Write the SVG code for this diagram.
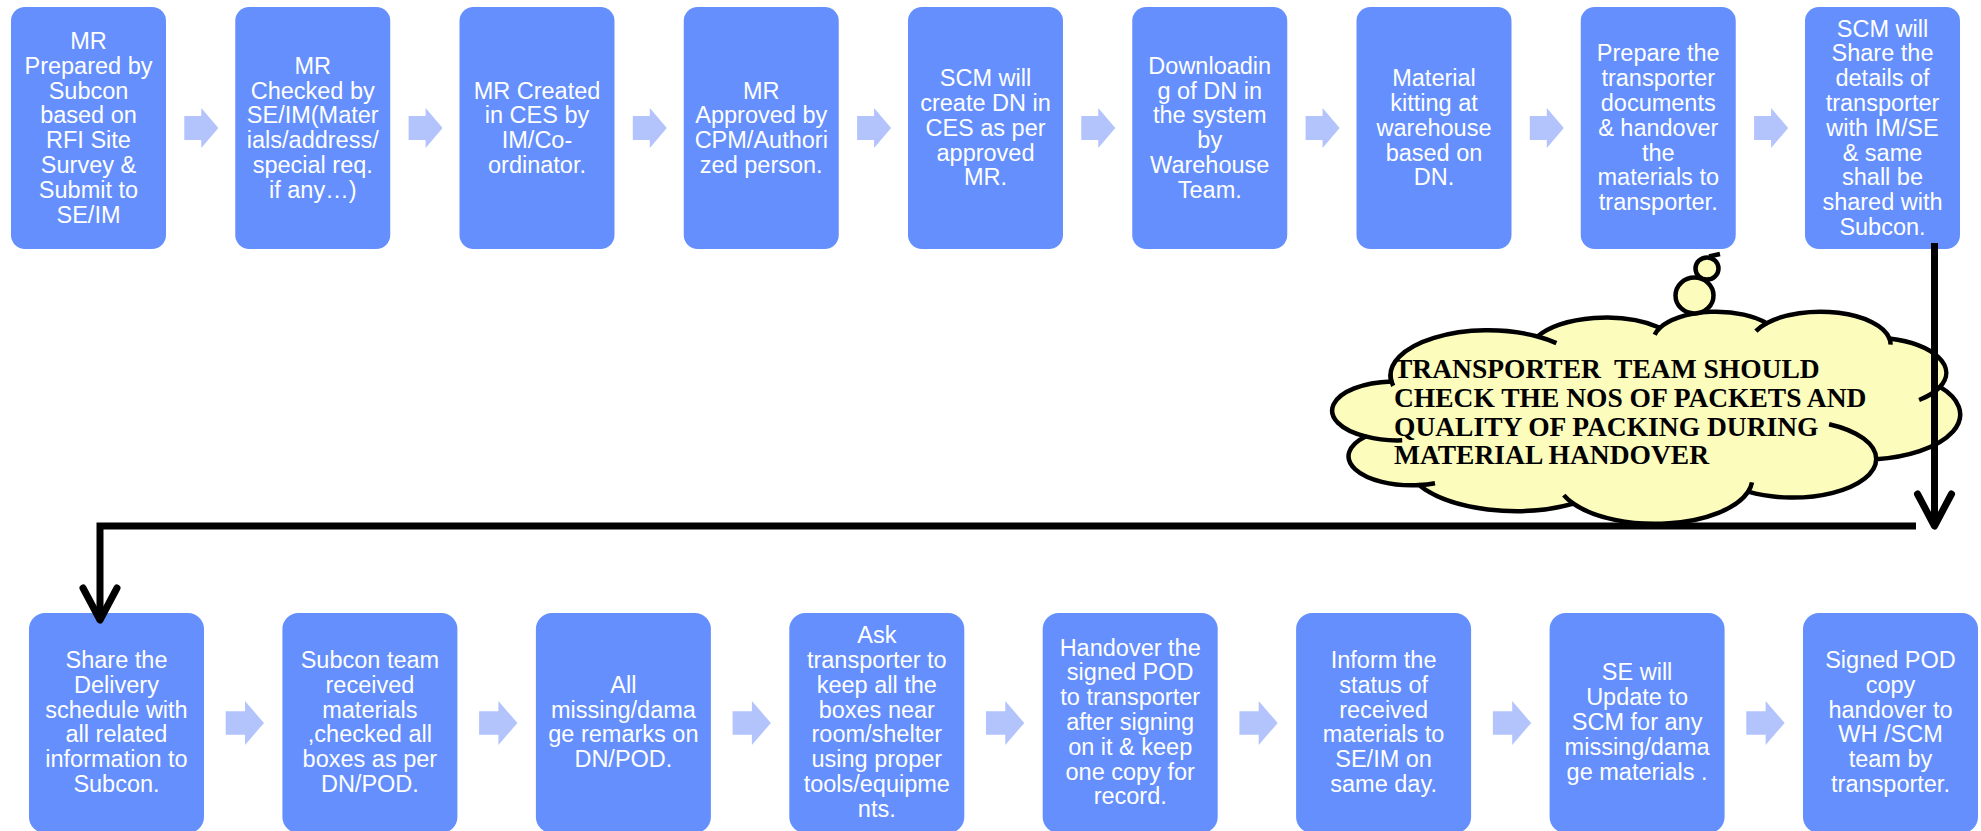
<svg xmlns="http://www.w3.org/2000/svg" xmlns:xlink="http://www.w3.org/1999/xlink" width="1981" height="831" viewBox="0 0 1981 831">
  <style>
    .box { fill: #648FFD; }
    .lbl { font-family: "Liberation Sans", Arial, sans-serif; font-size: 23.5px; fill: #FFFFFF; text-anchor: middle; }
    .chev { fill: #B3C3FC; }
    .cloud { fill: #FCFCBD; stroke: #000000; stroke-width: 4.5; stroke-linejoin: round; }
    .tick { fill: none; stroke: #000000; stroke-width: 4.5; stroke-linecap: butt; }
    .note { font-family: "Liberation Serif", "Times New Roman", serif; font-weight: bold; font-size: 27.5px; fill: #000000; white-space: pre; }
    .flow { fill: none; stroke: #000000; stroke-width: 7; stroke-linejoin: miter; }
  </style>
  <defs>
    <path id="chevTop" d="M0,-12 H17 V-20 L34,0 L17,20 V12 H0 Z"/>
    <path id="chevBottom" d="M0,-11.7 H19.3 V-22 L38.3,0 L19.3,22 V11.7 H0 Z"/>
    <marker id="openArrow" markerUnits="userSpaceOnUse" markerWidth="44" markerHeight="44" viewBox="-40 -22 44 44" refX="0" refY="0" orient="auto" overflow="visible">
      <path d="M-32,-17 L0,0 L-32,17" fill="none" stroke="#000000" stroke-width="7" stroke-linecap="round" stroke-linejoin="round"/>
    </marker>
  </defs>

  <rect width="1981" height="831" fill="#FFFFFF"/>

  <!-- top row of steps -->
  <g id="step-01"><rect class="box" x="11" y="7" width="155" height="242" rx="14"/>
    <text class="lbl" x="88.5" y="49"><tspan x="88.5">MR</tspan><tspan x="88.5" dy="24.8">Prepared by</tspan><tspan x="88.5" dy="24.8">Subcon</tspan><tspan x="88.5" dy="24.8">based on</tspan><tspan x="88.5" dy="24.8">RFI Site</tspan><tspan x="88.5" dy="24.8">Survey &amp;</tspan><tspan x="88.5" dy="24.8">Submit to</tspan><tspan x="88.5" dy="24.8">SE/IM</tspan></text></g>
  <g id="step-02"><rect class="box" x="235.25" y="7" width="155" height="242" rx="14"/>
    <text class="lbl" x="312.75" y="73.8"><tspan x="312.75">MR</tspan><tspan x="312.75" dy="24.8">Checked by</tspan><tspan x="312.75" dy="24.8">SE/IM(Mater</tspan><tspan x="312.75" dy="24.8">ials/address/</tspan><tspan x="312.75" dy="24.8">special req.</tspan><tspan x="312.75" dy="24.8">if any…)</tspan></text></g>
  <g id="step-03"><rect class="box" x="459.5" y="7" width="155" height="242" rx="14"/>
    <text class="lbl" x="537" y="98.6"><tspan x="537">MR Created</tspan><tspan x="537" dy="24.8">in CES by</tspan><tspan x="537" dy="24.8">IM/Co-</tspan><tspan x="537" dy="24.8">ordinator.</tspan></text></g>
  <g id="step-04"><rect class="box" x="683.75" y="7" width="155" height="242" rx="14"/>
    <text class="lbl" x="761.25" y="98.6"><tspan x="761.25">MR</tspan><tspan x="761.25" dy="24.8">Approved by</tspan><tspan x="761.25" dy="24.8">CPM/Authori</tspan><tspan x="761.25" dy="24.8">zed person.</tspan></text></g>
  <g id="step-05"><rect class="box" x="908" y="7" width="155" height="242" rx="14"/>
    <text class="lbl" x="985.5" y="86.2"><tspan x="985.5">SCM will</tspan><tspan x="985.5" dy="24.8">create DN in</tspan><tspan x="985.5" dy="24.8">CES as per</tspan><tspan x="985.5" dy="24.8">approved</tspan><tspan x="985.5" dy="24.8">MR.</tspan></text></g>
  <g id="step-06"><rect class="box" x="1132.25" y="7" width="155" height="242" rx="14"/>
    <text class="lbl" x="1209.75" y="73.8"><tspan x="1209.75">Downloadin</tspan><tspan x="1209.75" dy="24.8">g of DN in</tspan><tspan x="1209.75" dy="24.8">the system</tspan><tspan x="1209.75" dy="24.8">by</tspan><tspan x="1209.75" dy="24.8">Warehouse</tspan><tspan x="1209.75" dy="24.8">Team.</tspan></text></g>
  <g id="step-07"><rect class="box" x="1356.5" y="7" width="155" height="242" rx="14"/>
    <text class="lbl" x="1434" y="86.2"><tspan x="1434">Material</tspan><tspan x="1434" dy="24.8">kitting at</tspan><tspan x="1434" dy="24.8">warehouse</tspan><tspan x="1434" dy="24.8">based on</tspan><tspan x="1434" dy="24.8">DN.</tspan></text></g>
  <g id="step-08"><rect class="box" x="1580.75" y="7" width="155" height="242" rx="14"/>
    <text class="lbl" x="1658.25" y="61.4"><tspan x="1658.25">Prepare the</tspan><tspan x="1658.25" dy="24.8">transporter</tspan><tspan x="1658.25" dy="24.8">documents</tspan><tspan x="1658.25" dy="24.8">&amp; handover</tspan><tspan x="1658.25" dy="24.8">the</tspan><tspan x="1658.25" dy="24.8">materials to</tspan><tspan x="1658.25" dy="24.8">transporter.</tspan></text></g>
  <g id="step-09"><rect class="box" x="1805" y="7" width="155" height="242" rx="14"/>
    <text class="lbl" x="1882.5" y="36.6"><tspan x="1882.5">SCM will</tspan><tspan x="1882.5" dy="24.8">Share the</tspan><tspan x="1882.5" dy="24.8">details of</tspan><tspan x="1882.5" dy="24.8">transporter</tspan><tspan x="1882.5" dy="24.8">with IM/SE</tspan><tspan x="1882.5" dy="24.8">&amp; same</tspan><tspan x="1882.5" dy="24.8">shall be</tspan><tspan x="1882.5" dy="24.8">shared with</tspan><tspan x="1882.5" dy="24.8">Subcon.</tspan></text></g>

  <!-- bottom row of steps -->
  <g id="step-10"><rect class="box" x="29" y="613" width="175" height="220" rx="16"/>
    <text class="lbl" x="116.5" y="668"><tspan x="116.5">Share the</tspan><tspan x="116.5" dy="24.8">Delivery</tspan><tspan x="116.5" dy="24.8">schedule with</tspan><tspan x="116.5" dy="24.8">all related</tspan><tspan x="116.5" dy="24.8">information to</tspan><tspan x="116.5" dy="24.8">Subcon.</tspan></text></g>
  <g id="step-11"><rect class="box" x="282.4" y="613" width="175" height="220" rx="16"/>
    <text class="lbl" x="369.9" y="668"><tspan x="369.9">Subcon team</tspan><tspan x="369.9" dy="24.8">received</tspan><tspan x="369.9" dy="24.8">materials</tspan><tspan x="369.9" dy="24.8">,checked all</tspan><tspan x="369.9" dy="24.8">boxes as per</tspan><tspan x="369.9" dy="24.8">DN/POD.</tspan></text></g>
  <g id="step-12"><rect class="box" x="535.9" y="613" width="175" height="220" rx="16"/>
    <text class="lbl" x="623.4" y="692.8"><tspan x="623.4">All</tspan><tspan x="623.4" dy="24.8">missing/dama</tspan><tspan x="623.4" dy="24.8">ge remarks on</tspan><tspan x="623.4" dy="24.8">DN/POD.</tspan></text></g>
  <g id="step-13"><rect class="box" x="789.3" y="613" width="175" height="220" rx="16"/>
    <text class="lbl" x="876.8" y="643.2"><tspan x="876.8">Ask</tspan><tspan x="876.8" dy="24.8">transporter to</tspan><tspan x="876.8" dy="24.8">keep all the</tspan><tspan x="876.8" dy="24.8">boxes near</tspan><tspan x="876.8" dy="24.8">room/shelter</tspan><tspan x="876.8" dy="24.8">using proper</tspan><tspan x="876.8" dy="24.8">tools/equipme</tspan><tspan x="876.8" dy="24.8">nts.</tspan></text></g>
  <g id="step-14"><rect class="box" x="1042.7" y="613" width="175" height="220" rx="16"/>
    <text class="lbl" x="1130.2" y="655.6"><tspan x="1130.2">Handover the</tspan><tspan x="1130.2" dy="24.8">signed POD</tspan><tspan x="1130.2" dy="24.8">to transporter</tspan><tspan x="1130.2" dy="24.8">after signing</tspan><tspan x="1130.2" dy="24.8">on it &amp; keep</tspan><tspan x="1130.2" dy="24.8">one copy for</tspan><tspan x="1130.2" dy="24.8">record.</tspan></text></g>
  <g id="step-15"><rect class="box" x="1296.1" y="613" width="175" height="220" rx="16"/>
    <text class="lbl" x="1383.6" y="668"><tspan x="1383.6">Inform the</tspan><tspan x="1383.6" dy="24.8">status of</tspan><tspan x="1383.6" dy="24.8">received</tspan><tspan x="1383.6" dy="24.8">materials to</tspan><tspan x="1383.6" dy="24.8">SE/IM on</tspan><tspan x="1383.6" dy="24.8">same day.</tspan></text></g>
  <g id="step-16"><rect class="box" x="1549.6" y="613" width="175" height="220" rx="16"/>
    <text class="lbl" x="1637.1" y="680.4"><tspan x="1637.1">SE will</tspan><tspan x="1637.1" dy="24.8">Update to</tspan><tspan x="1637.1" dy="24.8">SCM for any</tspan><tspan x="1637.1" dy="24.8">missing/dama</tspan><tspan x="1637.1" dy="24.8">ge materials .</tspan></text></g>
  <g id="step-17"><rect class="box" x="1803" y="613" width="175" height="220" rx="16"/>
    <text class="lbl" x="1890.5" y="668"><tspan x="1890.5">Signed POD</tspan><tspan x="1890.5" dy="24.8">copy</tspan><tspan x="1890.5" dy="24.8">handover to</tspan><tspan x="1890.5" dy="24.8">WH /SCM</tspan><tspan x="1890.5" dy="24.8">team by</tspan><tspan x="1890.5" dy="24.8">transporter.</tspan></text></g>

  <!-- cloud callout note -->
  <g id="note-cloud">
    <path class="cloud" d="M1391.4,381.5
      A97.70,45.10 0 0 1 1537.6,336.5
      A77.16,35.66 0 0 1 1659.9,327.8
      A63.15,29.17 0 0 1 1766.6,323.2
      A70.27,32.36 0 0 1 1889.4,338.4
      A77.16,35.69 0 0 1 1940.0,386.9
      A98.02,45.25 0 0 1 1876.2,459.2
      A83.69,38.61 0 0 1 1748.1,491.7
      A97.68,45.22 0 0 1 1573.4,503.7
      A111.69,51.74 0 0 1 1419.0,485.1
      A63.08,29.04 0 0 1 1365.6,436.4
      A62.86,29.17 0 0 1 1391.4,381.5 Z"/>
    <path class="tick" d="M1402.2,440.3 A62.86,29.17 0 0 1 1365.6,436.4
      M1435.0,483.2 A63.08,29.04 0 0 1 1419.0,485.1
      M1573.4,503.7 A97.68,45.22 0 0 1 1563.8,495.1
      M1752.0,482.3 A97.68,45.22 0 0 1 1748.1,491.7
      M1829.1,424.2 A83.69,38.61 0 0 1 1876.2,459.2
      M1940.0,386.9 A77.16,35.69 0 0 1 1919.1,400.0
      M1889.4,338.4 A70.27,32.36 0 0 1 1890.5,344.6
      M1755.9,331.1 A70.27,32.36 0 0 1 1766.6,323.2
      M1654.7,334.7 A63.15,29.17 0 0 1 1659.9,327.8
      M1537.6,336.5 A97.70,45.10 0 0 1 1556.4,343.1
      M1393.2,385.9 A97.70,45.10 0 0 1 1390.6,374.6"/>
    <ellipse class="cloud" cx="1694.5" cy="295.5" rx="19" ry="18"/>
    <ellipse class="cloud" cx="1707" cy="268.5" rx="11.5" ry="11"/>
    <path class="tick" d="M1709,256.5 L1720,254"/>
    <text class="note" x="1394" y="378" xml:space="preserve">TRANSPORTER  TEAM SHOULD</text>
    <text class="note" x="1394" y="407">CHECK THE NOS OF PACKETS AND</text>
    <text class="note" x="1394" y="435.5">QUALITY OF PACKING DURING</text>
    <text class="note" x="1394" y="464">MATERIAL HANDOVER</text>
  </g>

  <!-- connectors: block arrows between steps and the return line -->
  <g id="connectors">
    <g id="chevrons-top" class="chev">
      <use xlink:href="#chevTop" transform="translate(184.3,128)"/>
      <use xlink:href="#chevTop" transform="translate(408.6,128)"/>
      <use xlink:href="#chevTop" transform="translate(632.8,128)"/>
      <use xlink:href="#chevTop" transform="translate(857.1,128)"/>
      <use xlink:href="#chevTop" transform="translate(1081.3,128)"/>
      <use xlink:href="#chevTop" transform="translate(1305.6,128)"/>
      <use xlink:href="#chevTop" transform="translate(1529.8,128)"/>
      <use xlink:href="#chevTop" transform="translate(1754.1,128)"/>
    </g>
    <g id="chevrons-bottom" class="chev">
      <use xlink:href="#chevBottom" transform="translate(225.7,723)"/>
      <use xlink:href="#chevBottom" transform="translate(479.1,723)"/>
      <use xlink:href="#chevBottom" transform="translate(732.6,723)"/>
      <use xlink:href="#chevBottom" transform="translate(986.0,723)"/>
      <use xlink:href="#chevBottom" transform="translate(1239.4,723)"/>
      <use xlink:href="#chevBottom" transform="translate(1492.9,723)"/>
      <use xlink:href="#chevBottom" transform="translate(1746.3,723)"/>
    </g>
    <path id="drop-right" class="flow" d="M1934.5,243 L1934.5,526" marker-end="url(#openArrow)"/>
    <path id="return-left" class="flow" d="M1916,526 L100,526 L100,620" marker-end="url(#openArrow)"/>
  </g>
</svg>
